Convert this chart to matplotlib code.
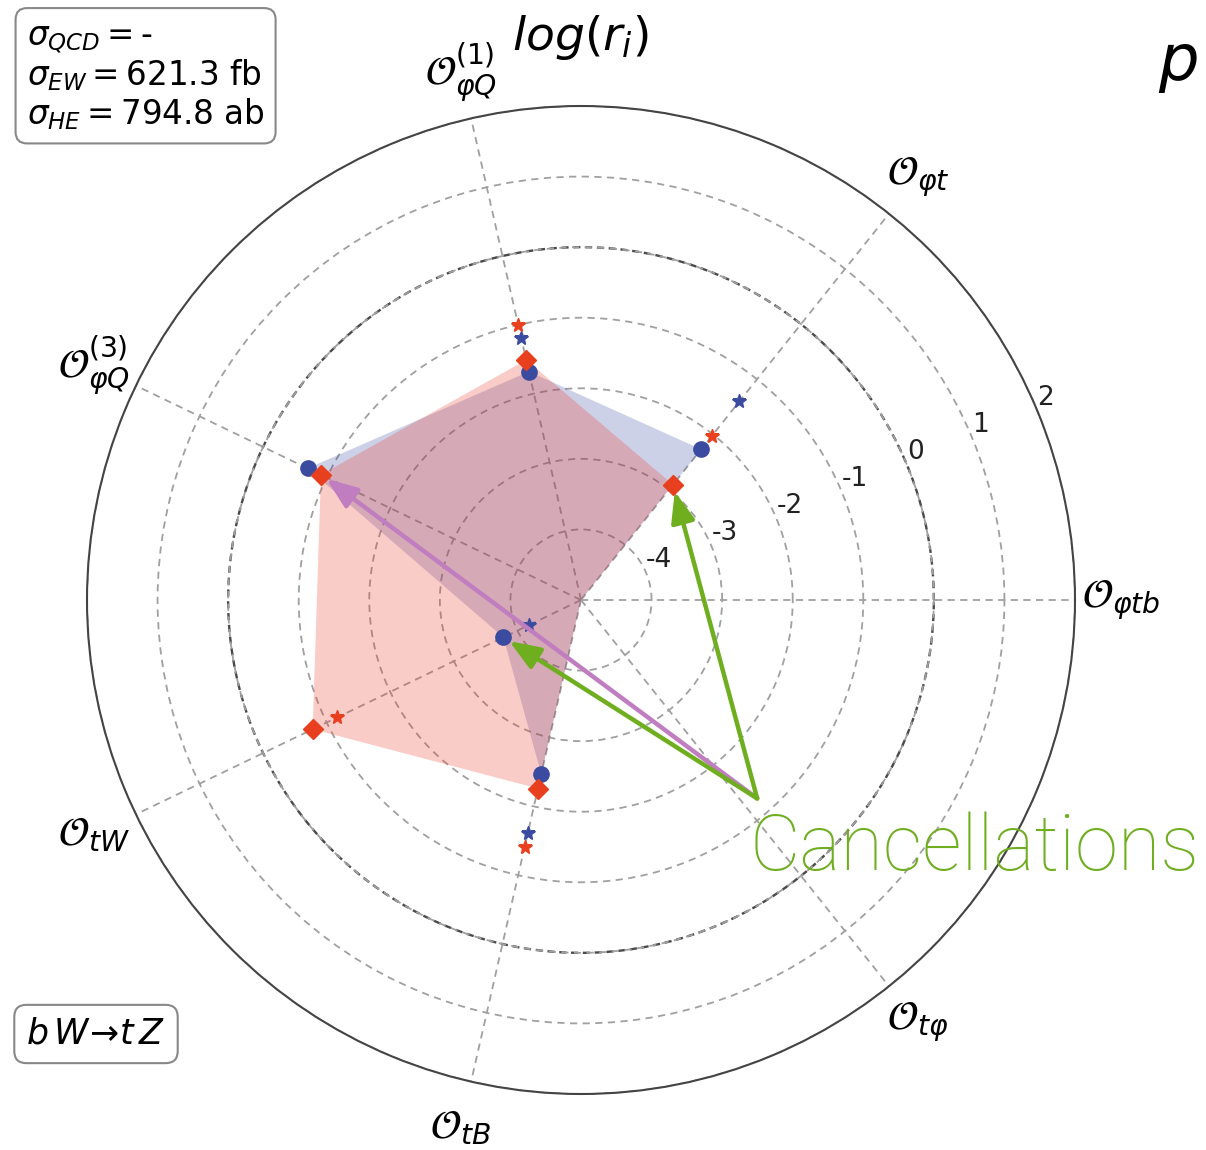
import numpy as np
import matplotlib
matplotlib.use("Agg")
import matplotlib.pyplot as plt

# Operators on the spokes (counter-clockwise from the right)
operators = [r"$\mathcal{O}_{\varphi tb}$", r"$\mathcal{O}_{\varphi t}$",
             r"$\mathcal{O}^{(1)}_{\varphi Q}$", r"$\mathcal{O}^{(3)}_{\varphi Q}$",
             r"$\mathcal{O}_{tW}$", r"$\mathcal{O}_{tB}$", r"$\mathcal{O}_{t\varphi}$"]

# log(r_i) per operator; -inf means no contribution
blue_vals = [-np.inf, -2.27, -1.68, -0.70, -3.78, -2.47, -np.inf]
red_vals = [-np.inf, -2.91, -1.51, -0.91, -0.78, -2.26, -np.inf]
blue_stars = [np.nan, -1.40, -1.19, np.nan, -4.18, -1.61, np.nan]
red_stars = [np.nan, -2.03, -1.00, np.nan, -1.17, -1.41, np.nan]

r_ticks = [-4, -3, -2, -1, 0, 1, 2]
R_MIN, R_MAX = -5, 2

xsec_text = (r"$\sigma_{QCD} = $-" "\n"
             r"$\sigma_{EW} = 621.3$ fb" "\n"
             r"$\sigma_{HE} = 794.8$ ab")
process_text = r"$b\,W\!\rightarrow\! t\,Z$"

BLUE = "#3b4ba0"
RED = "#e8401f"
RED_FILL = "#ee3b2c"
GREEN = "#6fae1f"
PURPLE = "#c07ec0"

n = len(operators)
theta = np.arange(n) * 2 * np.pi / n

W, H = 1206, 1150
fig = plt.figure(figsize=(W / 100, H / 100), dpi=100)
cx, cy, rad = 581, 600, 494
ax = fig.add_axes([(cx - rad) / W, (H - cy - rad) / H, 2 * rad / W, 2 * rad / H],
                  projection="polar")
ax.set_ylim(R_MIN, R_MAX)
ax.set_yticks(r_ticks)
ax.set_yticklabels([str(t) for t in r_ticks], fontsize=19, color="#222222")
ax.set_rlabel_position(22.5)
ax.set_xticks(theta)
ax.set_xticklabels([])
ax.grid(True, ls=(0, (4, 3)), color="#a0a0a0", lw=1.3)
ax.spines["polar"].set_color("#444444")
ax.spines["polar"].set_linewidth(1.5)

# emphasised r = 0 circle
tt = np.linspace(0, 2 * np.pi, 400)
ax.plot(tt, np.zeros_like(tt), ls=(0, (3, 2)), color="#4a4a4a", lw=1.7, zorder=1)


def closed(a):
    a = np.clip(np.asarray(a, float), R_MIN, R_MAX)
    return np.append(a, a[0])


th_c = np.append(theta, theta[0])
ax.fill(th_c, closed(blue_vals), color=BLUE, alpha=0.25, lw=0, zorder=2)
ax.fill(th_c, closed(red_vals), color=RED_FILL, alpha=0.26, lw=0, zorder=3)


def visible(a):
    a = np.asarray(a, float)
    return np.where(a > R_MIN, a, np.nan)


ax.plot(theta, visible(blue_vals), "o", color=BLUE, ms=11, zorder=5)
ax.plot(theta, visible(red_vals), "D", color=RED, ms=10, zorder=6)
ax.plot(theta, visible(blue_stars), "*", color=BLUE, ms=10.5, zorder=5)
ax.plot(theta, visible(red_stars), "*", color=RED, ms=10.5, zorder=5)

# spoke labels
for t, lab in zip(theta, operators):
    ax.text(t, 2.66, lab, ha="center", va="center", fontsize=29, clip_on=False)

# cancellation arrows
tail = (np.deg2rad(311.6), -1.24)
arrow_kw = dict(arrowstyle="-|>,head_length=0.85,head_width=0.33", lw=3.2,
                mutation_scale=22, shrinkA=0, shrinkB=5)
ax.annotate("", xy=(theta[1], red_vals[1]), xytext=tail,
            arrowprops=dict(color=GREEN, **arrow_kw), zorder=8)
ax.annotate("", xy=(theta[4], blue_vals[4]), xytext=tail,
            arrowprops=dict(color=GREEN, **arrow_kw), zorder=8)
ax.annotate("", xy=(theta[3], red_vals[3]), xytext=tail,
            arrowprops=dict(color=PURPLE, **arrow_kw), zorder=7)

fig.text(750 / W, 1 - 870 / H, "Cancellations", color=GREEN, fontsize=56,
         family="Roboto", fontweight="light", ha="left", va="baseline")

fig.text(580 / W, 1 - 38 / H, r"$log(r_i)$", fontsize=34, ha="center", va="center")
fig.text(1178 / W, 1 - 64 / H, r"$p$", fontsize=46, ha="center", va="center")

box = dict(boxstyle="round,pad=0.35", fc="white", ec="#888888", lw=1.5)
fig.text(27 / W, 1 - 77 / H, xsec_text, fontsize=23.5, ha="left", va="center",
         linespacing=1.1, bbox=box)
fig.text(96 / W, 1 - 1034 / H, process_text, fontsize=25, ha="center", va="center",
         bbox=box)

fig.savefig("out.png", dpi=100)
